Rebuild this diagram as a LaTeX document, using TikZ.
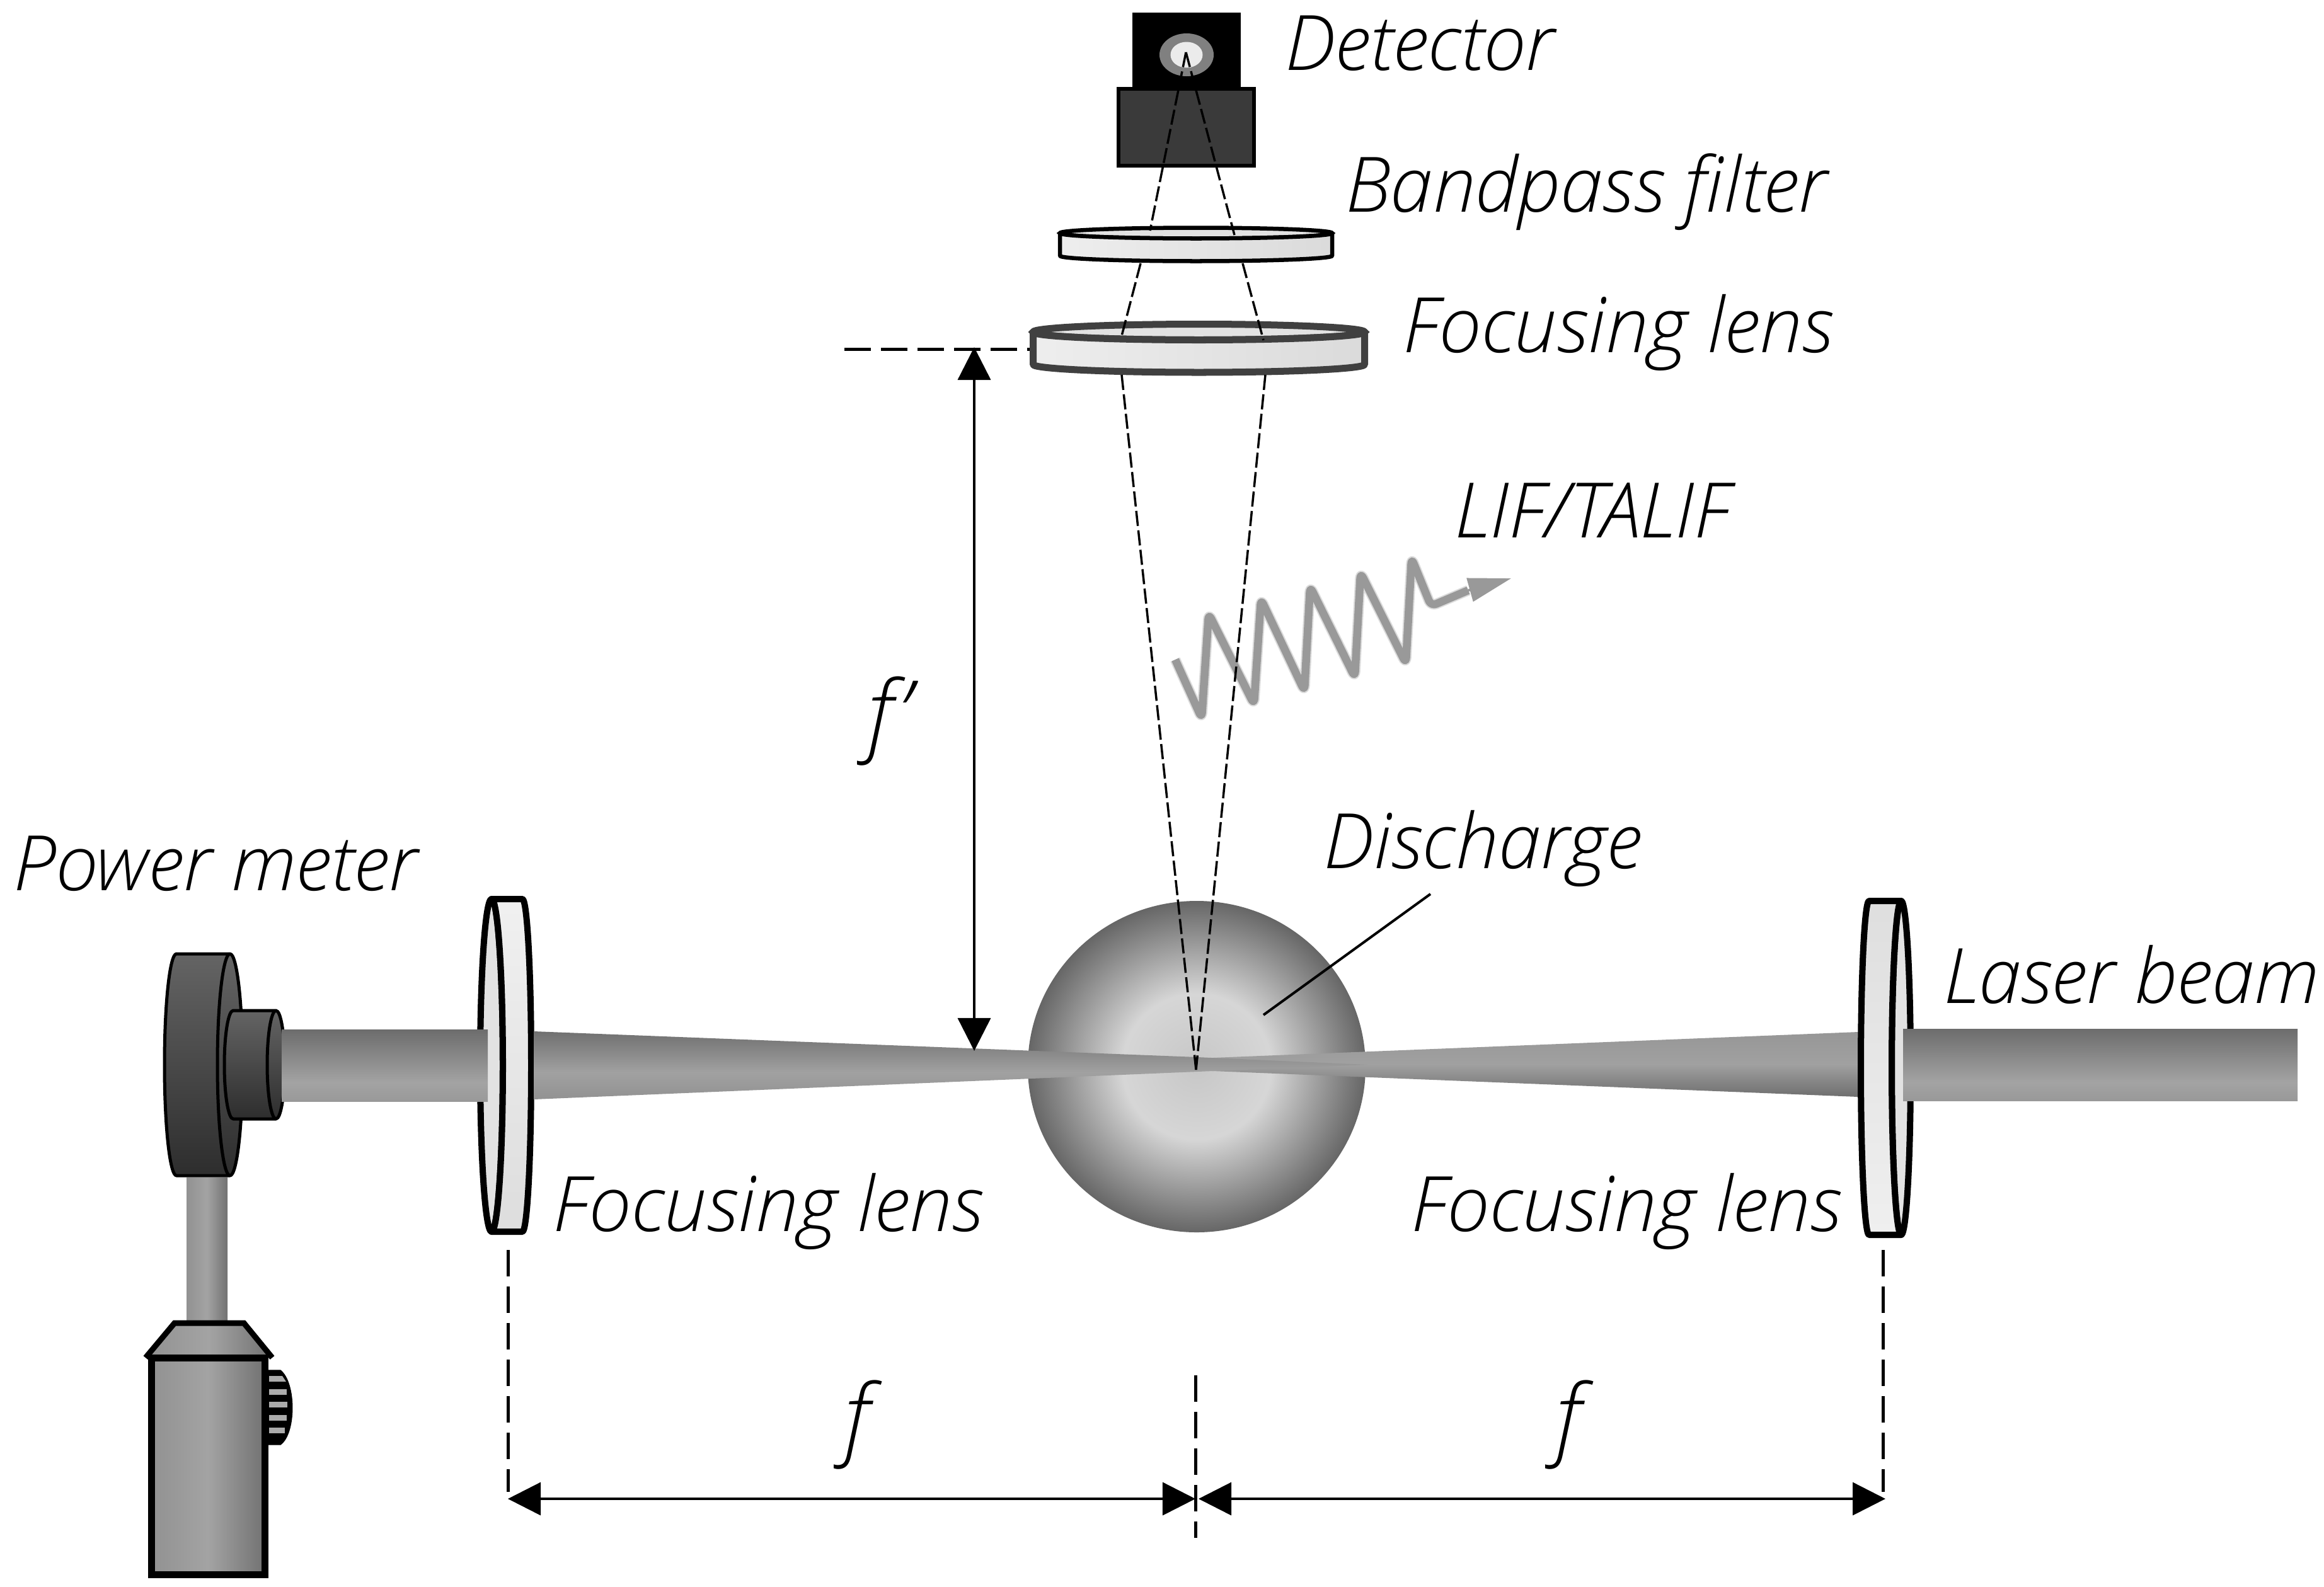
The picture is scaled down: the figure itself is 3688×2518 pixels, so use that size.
\documentclass[tikz,border=0pt]{standalone}
\usepackage{fontspec}
\setmainfont{Open Sans Light}[ItalicFont={Open Sans Light Italic}]
\usetikzlibrary{arrows.meta}
\definecolor{g40}{HTML}{404040}
\definecolor{wavec}{HTML}{999999}
\definecolor{faceg}{HTML}{E2E2E2}
\definecolor{darkbox}{HTML}{3A3A3A}
\pgfdeclareverticalshading{beamcoll}{100bp}{color(0bp)=(black!48); color(38bp)=(black!36); color(100bp)=(black!72)}
\pgfdeclareverticalshading{beamleft}{100bp}{color(0bp)=(black!50); color(45bp)=(black!37); color(100bp)=(black!72)}
\pgfdeclareverticalshading{beamright}{100bp}{color(0bp)=(black!77); color(50bp)=(black!37); color(100bp)=(black!45)}
\pgfdeclareverticalshading{headshade}{100bp}{color(0bp)=(black!93); color(100bp)=(black!50)}
\pgfdeclareverticalshading{lensleft}{100bp}{color(0bp)=(black!3); color(100bp)=(black!16)}
\pgfdeclareverticalshading{lensright}{100bp}{color(0bp)=(black!17); color(100bp)=(black!2)}
\pgfdeclarehorizontalshading{platefill}{100bp}{color(0bp)=(black!3); color(100bp)=(black!18)}
\pgfdeclarehorizontalshading{postfill}{100bp}{color(0bp)=(black!50); color(50bp)=(black!36); color(100bp)=(black!75)}
\pgfdeclareradialshading{sphere}{\pgfpoint{0bp}{0bp}}{color(0bp)=(black!22); color(11bp)=(black!16); color(25bp)=(black!60); color(50bp)=(black!60)}
\tikzset{
  x=0.01cm,y=-0.01cm,
  lab/.style={anchor=base west,inner sep=0pt,font=\fontsize{34.5pt}{40pt}\selectfont\itshape},
  sym/.style={anchor=center,inner sep=0pt,font=\fontsize{40pt}{46pt}\selectfont\itshape},
  ray/.style={line width=0.035cm,dash pattern=on 0.24cm off 0.07cm},
  guide/.style={line width=0.05cm,dash pattern=on 0.42cm off 0.16cm},
  dim/.style={line width=0.035cm},
  tips/.style={{Triangle[length=0.52cm,width=0.52cm]}-{Triangle[length=0.52cm,width=0.52cm]}},
  mount/.style={draw=black,line width=0.05cm,line join=round},
  lensline/.style={draw=black,line width=0.1cm,line join=round},
  wavehalo/.style={draw=wavec!35,line width=0.165cm,line join=round,rounded corners=0.09cm},
  wavecore/.style={draw=wavec,line width=0.125cm,line join=round,rounded corners=0.09cm},
}
\begin{document}
\begin{tikzpicture}
\useasboundingbox (0,0) rectangle (3688,2518);
\fill[white] (0,0) rectangle (3688,2518);

% --- coordinates for connectors
\coordinate (apex) at (1882,83);
\coordinate (cL1) at (1825,366); \coordinate (cR1) at (1959,373);
\coordinate (cL2) at (1810,418); \coordinate (cR2) at (1972,418);
\coordinate (cL3) at (1780,533); \coordinate (cR3) at (2005,540);
\coordinate (cL4) at (1780,595); \coordinate (cR4) at (2008,595);
\coordinate (focus) at (1898,1698);
\coordinate (gT) at (1340,554); \coordinate (gTe) at (1634,554);
\coordinate (fpT) at (1546,551); \coordinate (fpB) at (1546,1668);
\coordinate (gL) at (806,1984); \coordinate (gLe) at (806,2368);
\coordinate (gR) at (2988,1984); \coordinate (gRe) at (2988,2368);
\coordinate (gC) at (1897,2183); \coordinate (gCe) at (1897,2441);
\coordinate (aL) at (806,2379); \coordinate (aCl) at (1897,2379);
\coordinate (aCr) at (1902,2379); \coordinate (aR) at (2992,2379);
\coordinate (lead1) at (2270,1419); \coordinate (lead2) at (2005,1611);

% --- discharge
\shade[shading=sphere] (1899,1693) ellipse (268 and 263);

% --- detector
\fill[black] (1797,20) rectangle (1969,140);
\fill[black!50] (1883,87) ellipse (43 and 34);
\fill[black!8] (1883,87) ellipse (25.5 and 20.5);
\filldraw[fill=darkbox,draw=black,line width=0.06cm] (1775,141) rectangle (1990,263);

% --- bandpass filter
\filldraw[fill=faceg,draw=black,line width=0.065cm] (1898,370) ellipse (216 and 8.5);
\shade[shading=platefill] (1682,370) arc[start angle=180,end angle=0,x radius=216,y radius=8.5] -- (2114,406) arc[start angle=0,end angle=180,x radius=216,y radius=8.5] -- cycle;
\draw[black,line width=0.065cm,line join=round] (1682,370) arc[start angle=180,end angle=0,x radius=216,y radius=8.5] -- (2114,406) arc[start angle=0,end angle=180,x radius=216,y radius=8.5] -- cycle;

% --- upper focusing lens
\filldraw[fill=faceg,draw=g40,line width=0.11cm] (1902.5,527) ellipse (263 and 12.5);
\shade[shading=platefill] (1639.5,527) arc[start angle=180,end angle=0,x radius=263,y radius=12.5] -- (2165.5,578.5) arc[start angle=0,end angle=180,x radius=263,y radius=12.5] -- cycle;
\draw[g40,line width=0.11cm,line join=round] (1639.5,527) arc[start angle=180,end angle=0,x radius=263,y radius=12.5] -- (2165.5,578.5) arc[start angle=0,end angle=180,x radius=263,y radius=12.5] -- cycle;

% --- beam through the focus
\shade[shading=beamright] (2949,1638) -- (1900,1680) -- (1900,1699) -- (2949,1741) -- cycle;

% --- left lens
\filldraw[fill=faceg,lensline] (780,1691) ellipse (18 and 264);
\shade[shading=lensright] (780,1427) -- (829,1427) arc[start angle=-90,end angle=90,x radius=14,y radius=264] -- (780,1955) arc[start angle=90,end angle=-90,x radius=18,y radius=264] -- cycle;
\draw[lensline] (780,1427) -- (829,1427) arc[start angle=-90,end angle=90,x radius=14,y radius=264] -- (780,1955) arc[start angle=90,end angle=-90,x radius=18,y radius=264] -- cycle;

% --- right lens
\filldraw[fill=faceg,lensline] (3017,1695) ellipse (15 and 265);
\shade[shading=lensleft] (2966,1430) arc[start angle=-90,end angle=-270,x radius=13,y radius=265] -- (3017,1960) arc[start angle=90,end angle=270,x radius=15,y radius=265] -- cycle;
\draw[lensline] (2966,1430) arc[start angle=-90,end angle=-270,x radius=13,y radius=265] -- (3017,1960) arc[start angle=90,end angle=270,x radius=15,y radius=265] -- cycle;

% --- left converging beam
\shade[shading=beamleft] (847,1637) -- (1900,1678) -- (2170,1690) -- (1900,1701) -- (847,1745) -- cycle;

% --- power meter: head
\shade[shading=headshade] (280,1514) -- (365,1514) arc[start angle=-90,end angle=90,x radius=20,y radius=176] -- (280,1866) arc[start angle=90,end angle=270,x radius=19,y radius=176] -- cycle;
\draw[mount] (280,1514) -- (365,1514) arc[start angle=-90,end angle=90,x radius=20,y radius=176] -- (280,1866) arc[start angle=90,end angle=270,x radius=19,y radius=176] -- cycle;
\draw[mount] (365,1514) arc[start angle=-90,end angle=-270,x radius=20,y radius=176];
% --- power meter: nose
\shade[shading=headshade] (370,1604) -- (438,1604) arc[start angle=-90,end angle=90,x radius=14,y radius=86] -- (370,1776) arc[start angle=90,end angle=270,x radius=14,y radius=86] -- cycle;
\draw[mount] (370,1604) -- (438,1604) arc[start angle=-90,end angle=90,x radius=14,y radius=86] -- (370,1776) arc[start angle=90,end angle=270,x radius=14,y radius=86] -- cycle;
\draw[mount] (438,1604) arc[start angle=-90,end angle=-270,x radius=14,y radius=86];

% --- collimated beams
\shade[shading=beamcoll] (447,1634) rectangle (774,1748);
\shade[shading=beamcoll] (3020,1633) rectangle (3646,1747);

% --- power meter: post, neck, body, knob
\shade[shading=postfill] (296,1869) rectangle (361,2098);
\filldraw[fill=black] (426,2175) -- (445,2175) .. controls (470,2195) and (470,2275) .. (445,2293) -- (426,2293) -- cycle;
\fill[black!33] (427,2184) -- (448,2184) -- (454,2193) -- (427,2193) -- cycle;
\fill[black!33] (427,2205) rectangle (455,2214);
\fill[black!33] (427,2225) rectangle (456,2234);
\fill[black!33] (427,2246) rectangle (455,2255);
\fill[black!33] (427,2266) rectangle (452,2275);
\shade[shading=postfill] (277,2100) -- (387,2100) -- (432,2155) -- (231,2155) -- cycle;
\draw[black,line width=0.09cm,line join=miter] (231,2155) -- (277,2100) -- (387,2100) -- (432,2155);
\shade[shading=postfill] (240,2155) rectangle (421,2499);
\draw[black,line width=0.11cm] (240.5,2155) rectangle (420.5,2499);

% --- wave (under the collection cone)
\coordinate (waveA) at (2330,937); \coordinate (waveB) at (2398,918);
\draw[wavehalo]
  (1865,1047) -- (1907,1140) -- (1918,974) -- (1990,1118) -- (2001,951) -- (2070,1097) -- (2079,931) -- (2150,1075) -- (2159,909) -- (2231,1053) -- (2240,886) -- (2271,962) -- (waveA);
\draw[wavecore]
  (1865,1047) -- (1907,1140) -- (1918,974) -- (1990,1118) -- (2001,951) -- (2070,1097) -- (2079,931) -- (2150,1075) -- (2159,909) -- (2231,1053) -- (2240,886) -- (2271,962) -- (waveA);
\draw[wavec,line width=0.04cm,-{Triangle[length=0.68cm,width=0.38cm]}] (waveA) -- (waveB);

% --- collection cone
\draw[ray] (apex) -- (cL1);
\draw[ray] (apex) -- (cR1);
\draw[ray] (cL2) -- (cL3);
\draw[ray] (cR2) -- (cR3);
\draw[ray] (cL4) -- (focus);
\draw[ray] (cR4) -- (focus);

% --- leader and dimensions
\draw[dim,line width=0.04cm] (lead1) -- (lead2);
\draw[guide] (gT) -- (gTe);
\draw[dim,tips] (fpT) -- (fpB);
\draw[guide] (gL) -- (gLe);
\draw[guide] (gR) -- (gRe);
\draw[guide] (gC) -- (gCe);
\draw[dim,tips] (aL) -- (aCl);
\draw[dim,tips] (aCr) -- (aR);

% --- labels
\node[lab] (detector) at (2039,111) {Detector};
\node[lab] (bandpass) at (2135,336) {Bandpass filter};
\node[lab] (lensT) at (2226,559) {Focusing lens};
\node[lab] (lif) at (2308,853) {LIF/TALIF};
\node[lab] (discharge) at (2100,1378) {Discharge};
\node[lab] (power) at (21,1413) {Power meter};
\node[lab] (laser) at (3084,1592) {Laser beam};
\node[lab] (lensL) at (877,1954) {Focusing lens};
\node[lab] (lensR) at (2239,1954) {Focusing lens};
\node[sym] (fprime) at (1411,1145) {f'};
\node[sym] (fL) at (1359,2262) {f};
\node[sym] (fR) at (2488,2262) {f};
\end{tikzpicture}
\end{document}
